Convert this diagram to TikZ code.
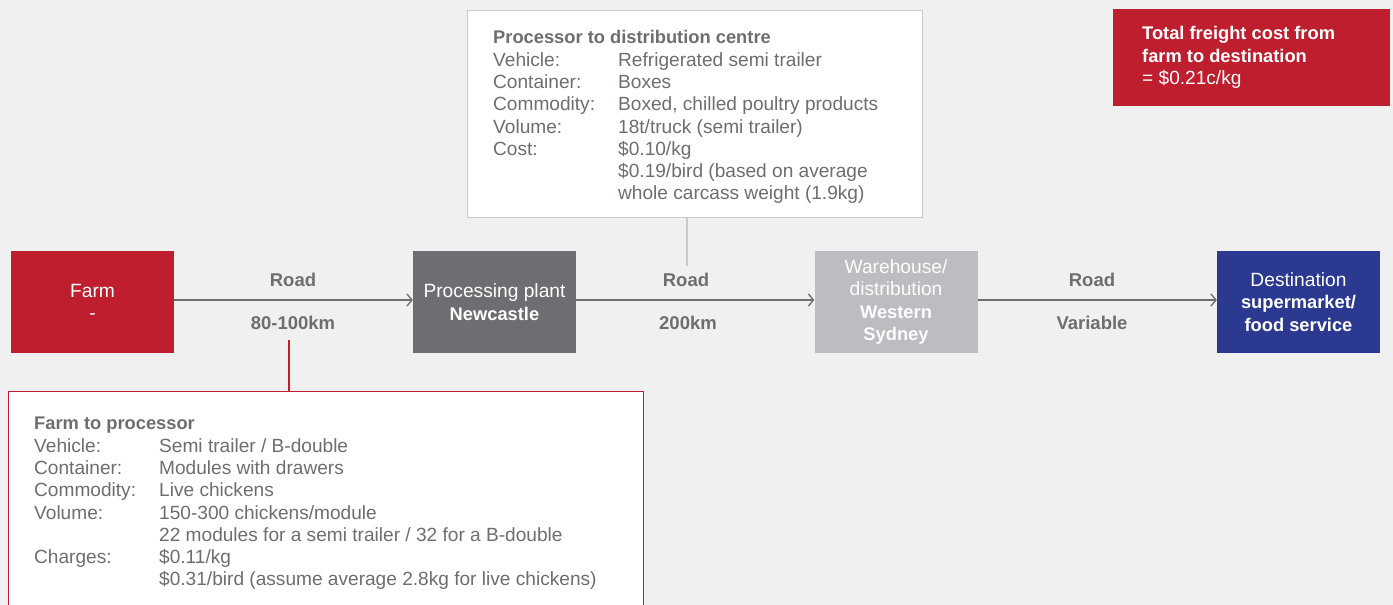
\documentclass[tikz,border=0pt]{standalone}
\usepackage{fontspec}
\setmainfont{Liberation Sans}
\usetikzlibrary{arrows.meta}
\definecolor{bg}{HTML}{EFF0EF}
\definecolor{farmred}{HTML}{BE1E2D}
\definecolor{plantgrey}{HTML}{6D6E71}
\definecolor{whgrey}{HTML}{BCBDC0}
\definecolor{navy}{HTML}{2B3990}
\definecolor{txtgrey}{HTML}{6D6E71}
\definecolor{linegrey}{HTML}{6D6E71}
\definecolor{boxgrey}{HTML}{C8C9CA}
\newcommand{\hd}[1]{{\fontsize{18.3}{22.3}\selectfont\bfseries #1}}
\begin{document}
\begin{tikzpicture}[x=1pt,y=-1pt,
  stage/.style={minimum width=163pt, minimum height=102pt, inner sep=0pt, align=center, text=white, font=\fontsize{19.2}{22.5}\selectfont},
  flow/.style={draw=linegrey, line width=1.3pt, -{Straight Barb[length=5pt,width=12pt,line width=1.3pt]}},
  roadlbl/.style={text=txtgrey, font=\fontsize{18.5}{22}\selectfont\bfseries, inner sep=0pt},
  info/.style={anchor=north west, inner sep=0pt, text=txtgrey, font=\fontsize{19.1}{22.3}\selectfont},
  conn/.style={draw=boxgrey, line width=1.3pt},
  redconn/.style={draw=farmred, line width=1.3pt},
  infobox/.style={fill=white, line width=1.3pt, inner sep=0pt, anchor=north west}
]
\useasboundingbox (0,0) rectangle (1393,605);
\fill[bg] (0,0) rectangle (1393,605);
\clip (0,0) rectangle (1393,605);

% stages
\node[stage, fill=farmred] (farm) at (92.5,302) {Farm\\-};
\node[stage, fill=plantgrey] (plant) at (494.5,302) {Processing plant\\\hd{Newcastle}};
\node[stage, fill=whgrey] (wh) at (896,302) {Warehouse/\\distribution\\\hd{Western}\\\hd{Sydney}};
\node[stage, fill=navy] (dest) at (1298.5,302) {Destination\\\hd{supermarket/}\\\hd{food service}};

% flows
\draw[flow] ([yshift=2pt]farm.east) -- ([yshift=2pt]plant.west);
\draw[flow] ([yshift=2pt]plant.east) -- ([yshift=2pt]wh.west);
\draw[flow] ([yshift=2pt]wh.east) -- ([yshift=2pt]dest.west);

% labels
\node[roadlbl] (r1) at (293,280) {Road};
\node[roadlbl] (d1) at (293,323) {80-100km};
\node[roadlbl] (r2) at (686,280) {Road};
\node[roadlbl] (d2) at (688,323) {200km};
\node[roadlbl] (r3) at (1092,280) {Road};
\node[roadlbl] (d3) at (1092,323) {Variable};

% processor to distribution box
\node[infobox, draw=boxgrey, minimum width=455pt, minimum height=207pt] (pdbox) at (467,10) {};
\node[info] (pdtext) at (493,28) {\begin{tabular}{@{}p{125pt}@{}l@{}}
\multicolumn{2}{@{}l@{}}{\hd{Processor to distribution centre}}\\
Vehicle: & Refrigerated semi trailer\\
Container: & Boxes\\
Commodity: & Boxed, chilled poultry products\\
Volume: & 18t/truck (semi trailer)\\
Cost: & \$0.10/kg\\
 & \$0.19/bird (based on average\\
 & whole carcass weight (1.9kg)
\end{tabular}};
\coordinate (c1) at (687,266);
\draw[conn] (pdbox.south -| c1) -- (c1);

% farm to processor box
\node[infobox, draw=farmred, minimum width=635pt, minimum height=240pt] (fpbox) at (8,391) {};
\node[info] (fptext) at (34,414) {\begin{tabular}{@{}p{125pt}@{}l@{}}
\multicolumn{2}{@{}l@{}}{\hd{Farm to processor}}\\
Vehicle: & Semi trailer / B-double\\
Container: & Modules with drawers\\
Commodity: & Live chickens\\
Volume: & 150-300 chickens/module\\
 & 22 modules for a semi trailer / 32 for a B-double\\
Charges: & \$0.11/kg\\
 & \$0.31/bird (assume average 2.8kg for live chickens)
\end{tabular}};
\coordinate (c2) at (289,340);
\draw[redconn] (c2) -- (fpbox.north -| c2);

% total cost box
\node[fill=farmred, minimum width=277pt, minimum height=97pt, inner sep=0pt, anchor=north west] (total) at (1113,9) {};
\node[info, text=white] (totaltext) at (1142,24) {\begin{tabular}{@{}l@{}}
\hd{Total freight cost from}\\
\hd{farm to destination}\\
= \$0.21c/kg
\end{tabular}};
\end{tikzpicture}
\end{document}
